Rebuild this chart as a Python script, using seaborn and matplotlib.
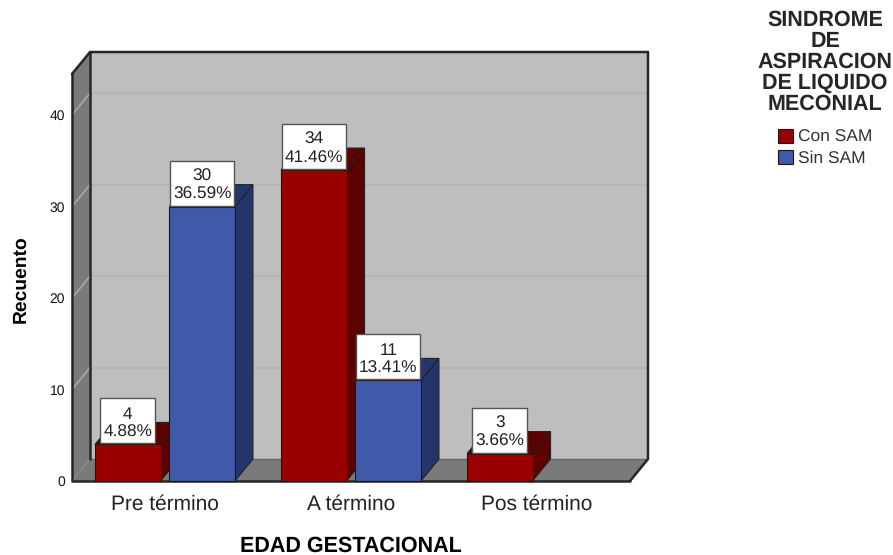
# -*- coding: utf-8 -*-
import numpy as np
import pandas as pd
import seaborn as sns
import matplotlib.pyplot as plt
from matplotlib.patches import Polygon, Rectangle

categorias = ["Pre término", "A término", "Pos término"]
grupos = ["Con SAM", "Sin SAM"]
con_sam = [4, 34, 3]
sin_sam = [30, 11, np.nan]
pct_con = ["4.88%", "41.46%", "3.66%"]
pct_sin = ["36.59%", "13.41%", ""]
yticks = [0, 10, 20, 30, 40]

colores = ["#990000", "#3e5aa8"]
lados = ["#5c0000", "#24356c"]

sns.set_theme(style="white")
plt.rcParams['font.family'] = ['Liberation Sans', 'DejaVu Sans']
plt.rcParams['text.hinting'] = 'none'
W, H = 893, 555

df = pd.DataFrame({
    "edad": categorias * 2,
    "grupo": [grupos[0]] * 3 + [grupos[1]] * 3,
    "recuento": con_sam + sin_sam,
})

fig = plt.figure(figsize=(W / 100, H / 100), dpi=100)
ax = fig.add_axes([72 / W, 1 - 481 / H, 558 / W, 407 / H])
sns.barplot(data=df, x="edad", y="recuento", hue="grupo", order=categorias,
            hue_order=grupos, palette=colores, gap=0.12, saturation=1,
            edgecolor="#2a1010", linewidth=0.8, legend=False, ax=ax, errorbar=None)
ax.set_xlim(-0.5, 2.5)
ax.set_ylim(0, 44.5)

# profundidad del 3D, en unidades de datos
dx = 18 / 186
dy = 22 / 9.15
x0, x1 = ax.get_xlim()
y0, y1 = ax.get_ylim()

def cara(puntos, color, z, edge="#222222", lw=0.8):
    ax.add_patch(Polygon(puntos, closed=True, facecolor=color, edgecolor=edge,
                         linewidth=lw, zorder=z, clip_on=False))

# paredes
cara([(x0 + dx, y0 + dy), (x1 + dx, y0 + dy), (x1 + dx, y1 + dy), (x0 + dx, y1 + dy)], "#bebebe", 0.2, "none", 0)
cara([(x0, y0), (x1, y0), (x1 + dx, y0 + dy), (x0 + dx, y0 + dy)], "#7a7a7a", 0.3, "none", 0)
cara([(x0, y0), (x0 + dx, y0 + dy), (x0 + dx, y1 + dy), (x0, y1)], "#7a7a7a", 0.3, "none", 0)

for v in yticks[1:]:
    ax.plot([x0 + dx, x1 + dx], [v + dy, v + dy], color="#b2b2b2", lw=1.2, zorder=0.4, clip_on=False)
    ax.plot([x0, x0 + dx], [v, v + dy], color="#a8a8a8", lw=1.2, zorder=0.4, clip_on=False)

ax.plot([x0 + dx, x1 + dx], [y0 + dy, y0 + dy], color="#666666", lw=1, zorder=0.5, clip_on=False)
borde = dict(color="#262626", lw=1.8, zorder=0.6, clip_on=False, solid_capstyle="round")
ax.plot([x0, x0 + dx, x1 + dx, x1 + dx, x1], [y1, y1 + dy, y1 + dy, y0 + dy, y0], **borde)
ax.plot([x0, x0, x1], [y1, y0, y0], **borde)
ax.plot([x0 + dx, x0 + dx], [y0 + dy, y1 + dy], **borde)

# caras laterales y superiores de cada barra
barras = []
for k, cont in enumerate(ax.containers):
    vals = [con_sam, sin_sam][k]
    pcts = [pct_con, pct_sin][k]
    for i, r in enumerate(cont):
        if np.isfinite(vals[i]):
            barras.append((r, k, vals[i], pcts[i]))
barras.sort(key=lambda b: b[0].get_x())

caja_alto = 45 / 9.15
renderer = fig.canvas.get_renderer()
for n, (r, k, v, p) in enumerate(barras):
    z = 2 + n
    xa, xb, h = r.get_x(), r.get_x() + r.get_width(), r.get_height()
    cara([(xb, 0), (xb + dx, dy), (xb + dx, h + dy), (xb, h)], lados[k], z)
    cara([(xa, h), (xb, h), (xb + dx, h + dy), (xa + dx, h + dy)], lados[k], z)
    r.set_zorder(z + 0.5)
    r.set_clip_on(False)
    # etiqueta con caja blanca de alto fijo
    base = h + 1 / 9.15
    t = ax.text((xa + xb) / 2, base + caja_alto / 2 - 2.5 / 9.15, f"{v:.0f}\n{p}", ha="center", va="center",
                fontsize=12.4, color="#222222", linespacing=1.2, zorder=21)
    ancho = (t.get_window_extent(renderer).width + 6) / 186
    ax.add_patch(Rectangle(((xa + xb) / 2 - ancho / 2, base), ancho, caja_alto, facecolor="white",
                           edgecolor="#555555", linewidth=1, zorder=20, clip_on=False))

sns.despine(ax=ax, left=True, bottom=True)
ax.set_yticks(yticks)
ax.set_yticklabels([str(t) for t in yticks])
ax.tick_params(axis="y", length=0, pad=5, labelsize=10, labelcolor="#111111")
ax.tick_params(axis="x", length=0, pad=9.5, labelsize=15, labelcolor="#222222")
ax.set_xlabel("EDAD GESTACIONAL", fontsize=15.5, fontweight="bold", color="black", va="center")
ax.xaxis.set_label_coords(0.5, -65 / 407)
ax.set_ylabel("Recuento", fontsize=13.9, fontweight="bold", color="black", va="center")
ax.yaxis.set_label_coords(-51 / 558, 0.495)

leg_handles = [c[0] for c in ax.containers]
leg = fig.legend(leg_handles, grupos, title="SINDROME\nDE\nASPIRACION\nDE LIQUIDO\nMECONIAL",
                 loc="upper center", bbox_to_anchor=(825 / W, 1 + 2.5 / H), frameon=False,
                 fontsize=12.5, handlelength=0.87, handleheight=0.87, handletextpad=0.3,
                 labelspacing=0.25, borderpad=0.2,
                 title_fontproperties=dict(size=15.5, weight="bold"))
leg.get_title().set_linespacing(1.03)
leg.get_title().set_multialignment("center")
leg._legend_box.sep = 10.5
for t in leg.get_texts():
    t.set_color("#333333")

fig.savefig("out.png", dpi=100)
